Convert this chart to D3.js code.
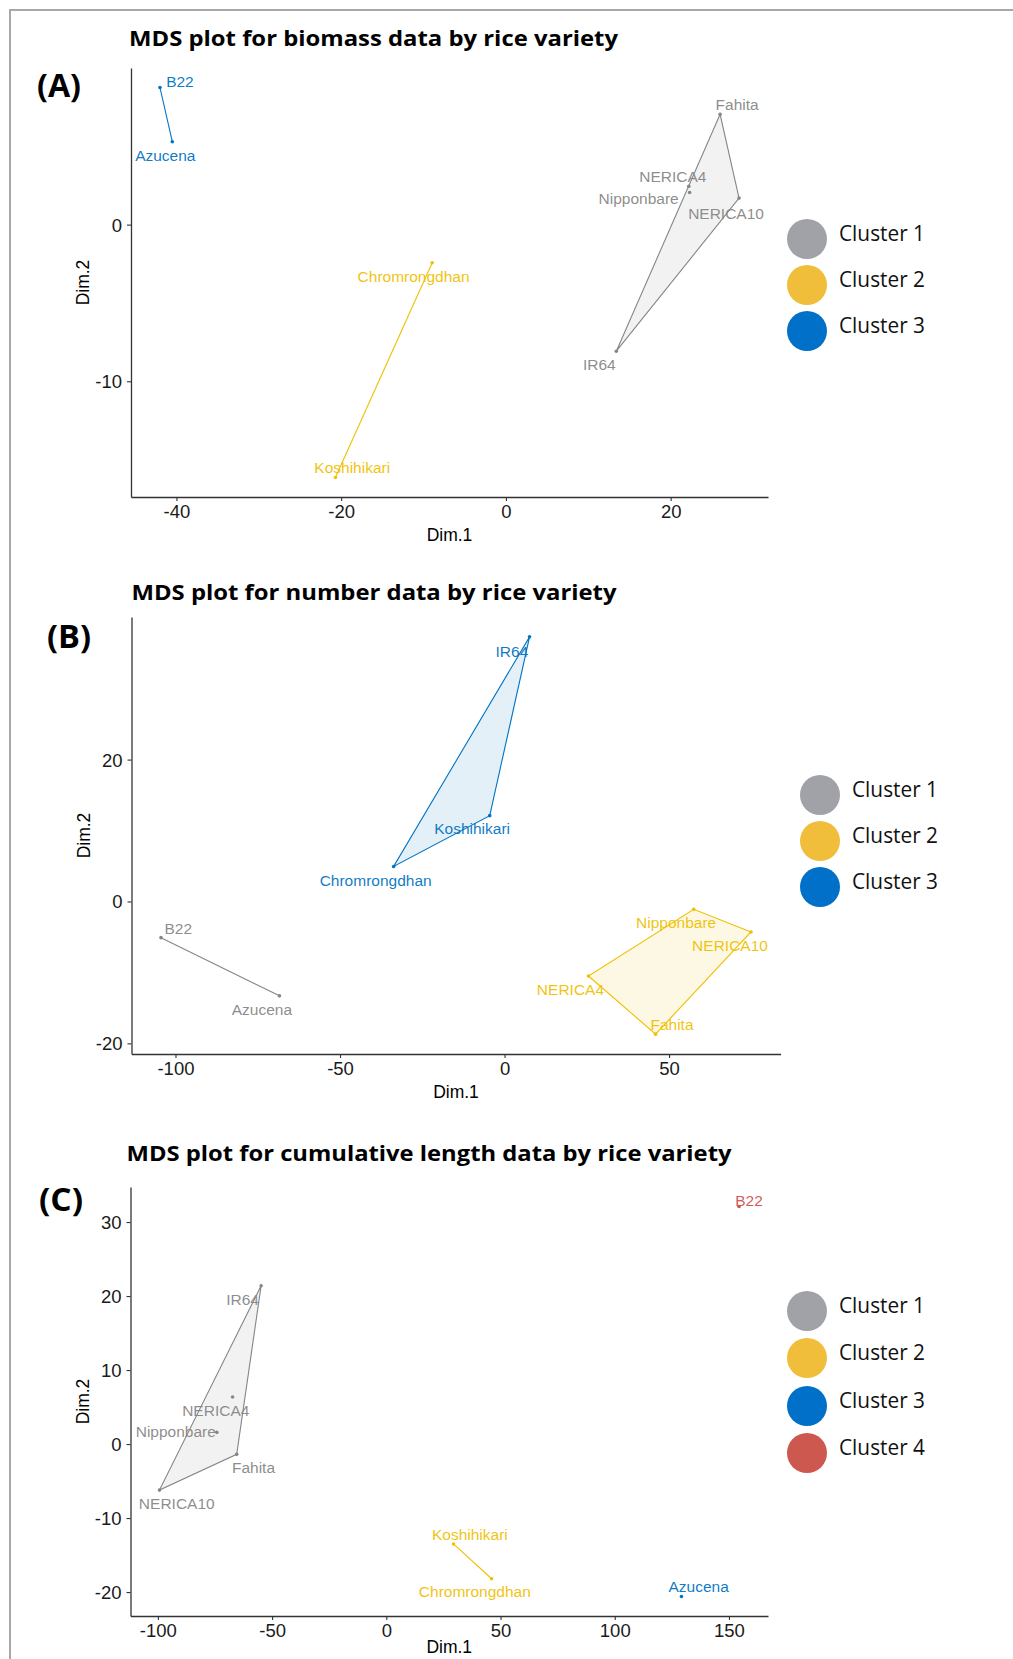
<!DOCTYPE html>
<html><head><meta charset="utf-8">
<script src="https://cdn.jsdelivr.net/npm/d3@7"></script>
<style>body{margin:0;background:#fff;} svg{display:block}</style>
</head><body>
<svg id="chart" width="1013" height="1659"></svg>
<script>
// ---------- DATA ----------
const clusterLabels = ["Cluster 1","Cluster 2","Cluster 3","Cluster 4"];

// (A) biomass
const biomassNames   = ["B22","Azucena","Fahita","NERICA4","Nipponbare","NERICA10","IR64","Chromrongdhan","Koshihikari"];
const biomassDim1    = [-42.0,-40.5,26.0,22.2,22.3,28.3,13.4,-8.95,-20.7];
const biomassDim2    = [8.75,5.29,7.04,2.44,2.05,1.69,-8.08,-2.43,-16.14];
const biomassCluster = [3,3,1,1,1,1,1,2,2];
const biomassXTicks  = [-40,-20,0,20];
const biomassYTicks  = [-10,0];

// (B) number
const numberNames   = ["IR64","Koshihikari","Chromrongdhan","B22","Azucena","Nipponbare","NERICA10","NERICA4","Fahita"];
const numberDim1    = [7.6,-4.5,-33.7,-104.4,-68.4,57.5,74.9,25.5,45.9];
const numberDim2    = [37.3,12.1,4.94,-5.1,-13.3,-1.1,-4.3,-10.5,-18.7];
const numberCluster = [3,3,3,1,1,2,2,2,2];
const numberXTicks  = [-100,-50,0,50];
const numberYTicks  = [-20,0,20];

// (C) cumulative length
const lengthNames   = ["B22","IR64","NERICA4","Nipponbare","Fahita","NERICA10","Koshihikari","Chromrongdhan","Azucena"];
const lengthDim1    = [154.4,-54.8,-67.3,-74.2,-65.5,-99.3,29.4,46.1,129.2];
const lengthDim2    = [32.1,21.4,6.36,1.58,-1.39,-6.22,-13.5,-18.2,-20.6];
const lengthCluster = [4,1,1,1,1,1,2,2,3];
const lengthXTicks  = [-100,-50,0,50,100,150];
const lengthYTicks  = [-20,-10,0,10,20,30];

// ---------- STYLE / LAYOUT ----------
const markColors   = {1:"#868686",2:"#EFC000",3:"#0073C2",4:"#CD534C"};
const legendColors = ["#A0A2A8","#F0BE3A","#0070C8","#CD5850"];

const svg = d3.select("#chart");

// frame
svg.append("line").attr("x1",9).attr("x2",1013).attr("y1",10).attr("y2",10)
  .attr("stroke","#A8A8A8").attr("stroke-width",2);
svg.append("line").attr("x1",10).attr("x2",10).attr("y1",9).attr("y2",1659)
  .attr("stroke","#A8A8A8").attr("stroke-width",2);

const panels = [
  { title:"MDS plot for biomass data by rice variety", titleX:129, titleW:489, titleY:46,
    tag:"(A)", tagX:37, tagY:97, dim1Gap:44,
    names:biomassNames, xs:biomassDim1, ys:biomassDim2, cl:biomassCluster,
    xt:biomassXTicks, yt:biomassYTicks,
    left:131, right:768, top:68, bottom:497,
    legX:807, legTX:839, legY:[239,285,331], nLeg:3,
    off:{B22:[20,-6],Azucena:[-7,13.5],Fahita:[17,-9.6],NERICA4:[-16,-9.7],Nipponbare:[-51,5.7],
         NERICA10:[-13,15.5],IR64:[-17,13],Chromrongdhan:[-18.6,13.6],Koshihikari:[16.8,-9.6]} },
  { title:"MDS plot for number data by rice variety", titleX:131.5, titleW:485, titleY:600,
    tag:"(B)", tagX:47, tagY:648, dim1Gap:44,
    names:numberNames, xs:numberDim1, ys:numberDim2, cl:numberCluster,
    xt:numberXTicks, yt:numberYTicks,
    left:131.5, right:780.5, top:617, bottom:1054,
    legX:820, legTX:852, legY:[795,841,887], nLeg:3,
    off:{IR64:[-17.6,14.3],Koshihikari:[-17.6,13],Chromrongdhan:[-18,14],B22:[17.3,-9.6],Azucena:[-17.6,13.2],
         Nipponbare:[-17.6,13.6],NERICA10:[-21,13.2],NERICA4:[-18,13.6],Fahita:[16.4,-10]} },
  { title:"MDS plot for cumulative length data by rice variety", titleX:126.5, titleW:605, titleY:1160.5,
    tag:"(C)", tagX:39, tagY:1211, dim1Gap:37,
    names:lengthNames, xs:lengthDim1, ys:lengthDim2, cl:lengthCluster,
    xt:lengthXTicks, yt:lengthYTicks,
    left:130.5, right:768, top:1187, bottom:1616,
    legX:807, legTX:839, legY:[1311,1358,1406,1453], nLeg:4,
    off:{B22:[10,-6.3],IR64:[-18.6,13.4],NERICA4:[-16.8,13.4],Nipponbare:[-41,-0.4],Fahita:[16.8,12.8],
         NERICA10:[17.3,13.4],Koshihikari:[16.4,-9.7],Chromrongdhan:[-16.8,13.1],Azucena:[17.2,-9.6]} }
];

function expand(ext){ const d=(ext[1]-ext[0])*0.05; return [ext[0]-d, ext[1]+d]; }
const fmt = d => String(d);

panels.forEach(p => {
  const g = svg.append("g");
  const x = d3.scaleLinear().domain(expand(d3.extent(p.xs))).range([p.left,p.right]);
  const y = d3.scaleLinear().domain(expand(d3.extent(p.ys))).range([p.bottom,p.top]);

  // title
  g.append("text").attr("x",p.titleX).attr("y",p.titleY)
    .attr("font-family","'Open Sans', sans-serif").attr("font-weight","bold")
    .attr("font-size",22).attr("fill","#000")
    .attr("textLength",p.titleW).attr("lengthAdjust","spacingAndGlyphs").text(p.title);
  // tag
  g.append("text").attr("x",p.tagX).attr("y",p.tagY)
    .attr("font-family","'Open Sans', sans-serif").attr("font-weight","bold")
    .attr("font-size",33).attr("fill","#000")
    .attr("textLength",44).attr("lengthAdjust","spacingAndGlyphs").text(p.tag);

  // axes
  const xa = g.append("g").attr("transform",`translate(0,${p.bottom})`)
    .call(d3.axisBottom(x).tickValues(p.xt).tickSize(4).tickSizeOuter(0).tickPadding(5).tickFormat(fmt));
  const ya = g.append("g").attr("transform",`translate(${p.left},0)`)
    .call(d3.axisLeft(y).tickValues(p.yt).tickSize(4).tickSizeOuter(0).tickPadding(5).tickFormat(fmt));
  [xa,ya].forEach(a=>{
    a.select(".domain").attr("stroke","#333").attr("stroke-width",1.3);
    a.selectAll(".tick line").attr("stroke","#333").attr("stroke-width",1.1);
    a.selectAll(".tick text").attr("font-family","'Liberation Sans', Arial, sans-serif")
      .attr("font-size",18.5).attr("fill","#1a1a1a");
  });
  xa.selectAll(".tick text").attr("dy","0.71em").attr("y",8);
  ya.selectAll(".tick text").attr("x",-9).attr("dy","0.35em");

  g.append("text").attr("x",(p.left+p.right)/2).attr("y",p.bottom+p.dim1Gap)
    .attr("text-anchor","middle").attr("font-family","'Liberation Sans', Arial, sans-serif")
    .attr("font-size",17.5).attr("fill","#000").text("Dim.1");
  g.append("text").attr("transform",`translate(${p.left-42},${(p.top+p.bottom)/2}) rotate(-90)`)
    .attr("text-anchor","middle").attr("font-family","'Liberation Sans', Arial, sans-serif")
    .attr("font-size",17.5).attr("fill","#000").text("Dim.2");

  // data rows
  const rows = p.names.map((n,i)=>({name:n, dx:p.xs[i], dy:p.ys[i], c:p.cl[i]}));
  const groups = d3.group(rows, d=>d.c);

  // hulls
  groups.forEach((pts,c)=>{
    const coords = pts.map(d=>[x(d.dx),y(d.dy)]);
    if (coords.length>=3){
      const hull = d3.polygonHull(coords);
      g.append("path").attr("d","M"+hull.join("L")+"Z")
        .attr("fill",markColors[c]).attr("fill-opacity",0.11)
        .attr("stroke",markColors[c]).attr("stroke-width",1.1);
    } else if (coords.length===2){
      g.append("line").attr("x1",coords[0][0]).attr("y1",coords[0][1])
        .attr("x2",coords[1][0]).attr("y2",coords[1][1])
        .attr("stroke",markColors[c]).attr("stroke-width",1.1);
    }
  });

  // points
  g.selectAll("circle.pt").data(rows).join("circle").attr("class","pt")
    .attr("cx",d=>x(d.dx)).attr("cy",d=>y(d.dy)).attr("r",1.8)
    .attr("fill",d=>markColors[d.c]);

  // labels
  g.selectAll("text.lab").data(rows).join("text").attr("class","lab")
    .attr("x",d=>x(d.dx)+p.off[d.name][0]).attr("y",d=>y(d.dy)+p.off[d.name][1])
    .attr("text-anchor","middle").attr("dominant-baseline","central")
    .attr("font-family","'Liberation Sans', Arial, sans-serif").attr("font-size",15.5)
    .attr("fill",d=>markColors[d.c]).attr("fill-opacity",0.95).text(d=>d.name);

  // legend
  const leg = g.append("g");
  for (let i=0;i<p.nLeg;i++){
    leg.append("circle").attr("cx",p.legX).attr("cy",p.legY[i]).attr("r",20)
      .attr("fill",legendColors[i]);
    leg.append("text").attr("x",p.legTX).attr("y",p.legY[i]+2)
      .attr("font-family","'Open Sans', sans-serif").attr("font-size",22).attr("fill","#111")
      .attr("textLength",86).attr("lengthAdjust","spacingAndGlyphs").text(clusterLabels[i]);
  }
});
</script>
</body></html>
